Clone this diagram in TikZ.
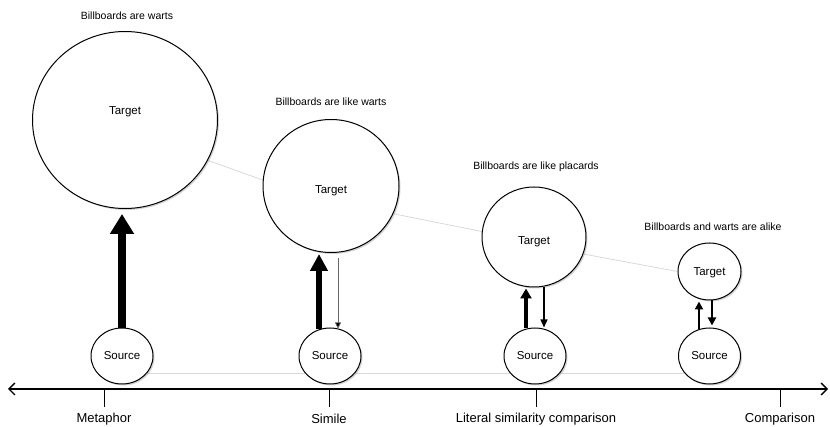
\documentclass[tikz,border=0pt]{standalone}
\usepackage{fontspec}
\setmainfont{Liberation Sans}
\usetikzlibrary{shapes.geometric,arrows.meta,shadows,calc,backgrounds}
\newcommand{\tgt}[1]{\raisebox{#1}[0pt][0pt]{Target}}
\begin{document}
\begin{tikzpicture}[x=1pt,y=-1pt,
  circ/.style={ellipse,draw,line width=1pt,fill=white,inner sep=0pt,
    drop shadow={shadow xshift=1.5pt,shadow yshift=-1.5pt,opacity=0.35},
    font=\fontsize{11.5}{13}\selectfont},
  src/.style={circ,minimum width=62pt,minimum height=56pt},
  toplbl/.style={font=\fontsize{10.5}{12}\selectfont,inner sep=0pt},
  axislbl/.style={font=\fontsize{13}{15}\selectfont,inner sep=0pt},
  guide/.style={draw=black!15,line width=0.8pt},
  tick/.style={line width=0.8pt}]
\useasboundingbox (0,0) rectangle (830,427);

% target circles
\node[circ,minimum width=185pt,minimum height=177pt] (t1) at (125,120) {\tgt{5pt}};
\node[circ,minimum width=136pt,minimum height=133pt] (t2) at (331,186) {\tgt{-8pt}};
\node[circ,minimum width=104pt,minimum height=100pt] (t3) at (534,237) {\tgt{-8pt}};
\node[circ,minimum width=63pt,minimum height=57pt] (t4) at (709.5,271.5) {\tgt{-4.5pt}};

% source circles
\node[src] (s1) at (122,356) {Source};
\node[src] (s2) at (330,356) {Source};
\node[src] (s3) at (535,356) {Source};
\node[src] (s4) at (709.5,356) {Source};

% top labels
\node[toplbl] (l1) at (127,16) {Billboards are warts};
\node[toplbl] (l2) at (331,102) {Billboards are like warts};
\node[toplbl] (l3) at (536,167) {Billboards are like placards};
\node[toplbl] (l4) at (713,227) {Billboards and warts are alike};

% guide lines
\begin{scope}[on background layer]
  \draw[guide] (t1.-26) -- (t2.175) (t2.-24) -- (t3.174) (t3.-19) -- (t4.180);
  \draw[guide] (s1.-36) -- (s4.216);
\end{scope}

% arrows: metaphor
\draw[line width=8pt,-{Triangle[width=23pt,length=20pt]}]
  ($(s1.north)+(0,1)$) -- ($(s1.north |- t1.south)+(0,5)$);
% simile
\draw[line width=6pt,-{Triangle[width=17pt,length=17pt]}]
  ($(s2.north)+(-11,2)$) -- ($(s2.north |- t2.south)+(-11,1)$);
\draw[line width=0.6pt,draw=black!60,-{Triangle[width=6pt,length=6pt,fill=black]}]
  ($(s2.north |- t2.south)+(8,5)$) -- ($(s2.north)+(8,1)$);
% literal similarity
\draw[line width=4pt,-{Triangle[width=11pt,length=10pt]}]
  ($(s3.north)+(-9,1)$) -- ($(s3.north |- t3.south)+(-9,1)$);
\draw[line width=1.3pt,-{Triangle[width=7pt,length=8pt]}]
  ($(s3.north |- t3.south)+(9,0)$) -- ($(s3.north)+(9,0)$);
% comparison
\draw[line width=2.8pt,-{Triangle[width=8pt,length=8pt]}]
  ($(s4.north)+(-10.5,2)$) -- ($(t4.south)+(-10.5,1)$);
\draw[line width=2.5pt,-{Triangle[width=8pt,length=8pt]}]
  ($(t4.south)+(2.5,0)$) -- ($(s4.north)+(2.5,-2)$);

% axis
\coordinate (axL) at (8,389);
\coordinate (axR) at (828,389);
\draw[line width=1.3pt,{Straight Barb[length=6pt,width=12pt]}-{Straight Barb[length=6pt,width=12pt]}] (axL) -- (axR);

% axis labels and ticks
\node[axislbl] (m) at (104,419) {Metaphor};
\node[axislbl] (s) at (329,419) {Simile};
\node[axislbl] (l) at (536,419) {Literal similarity comparison};
\node[axislbl] (c) at (780,419) {Comparison};
\foreach \n/\x in {m/104,s/329,l/536,c/780}{
  \draw[tick] (\x,389) -- (\x,407);
}
\end{tikzpicture}
\end{document}
